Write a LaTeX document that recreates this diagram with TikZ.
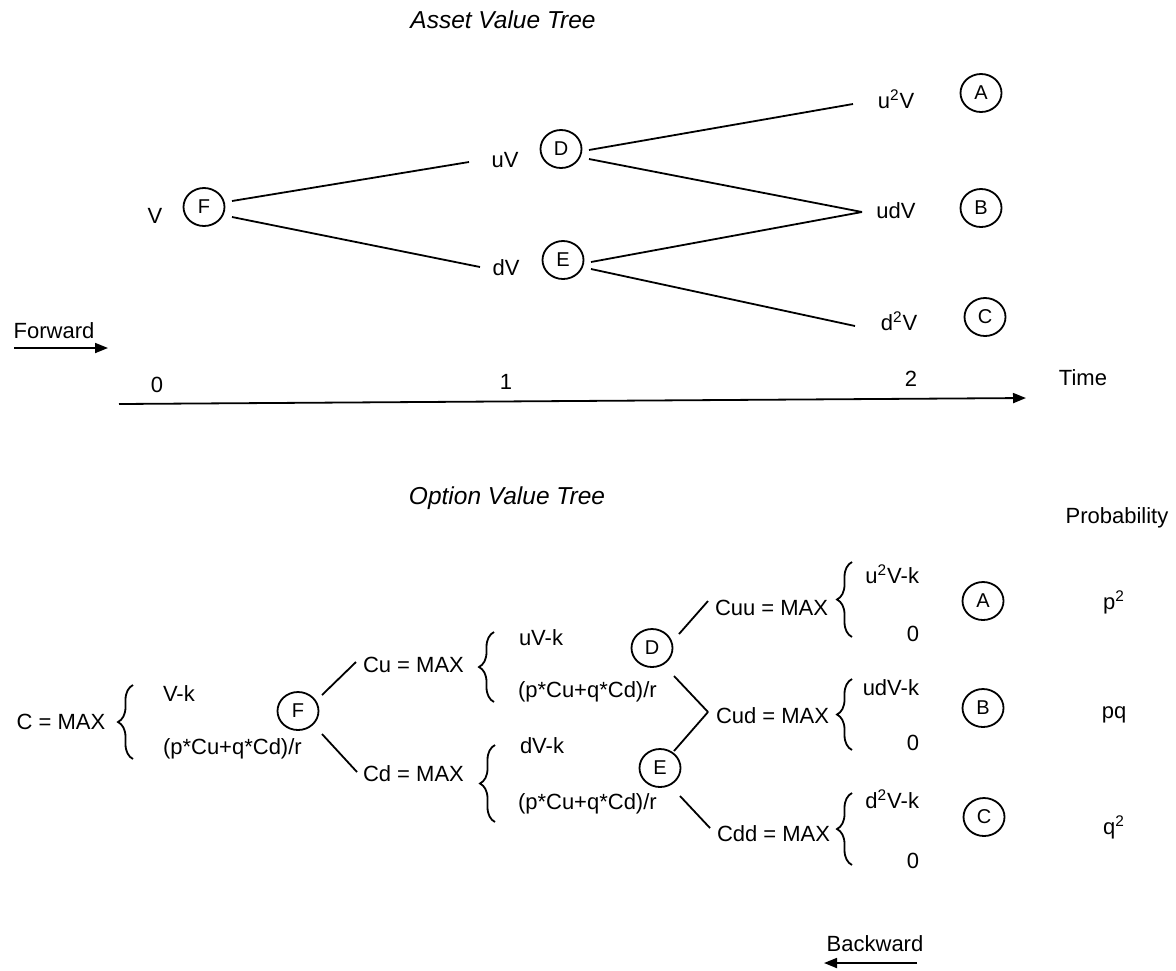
\documentclass[tikz,border=0pt]{standalone}
\usepackage{fontspec}
\setmainfont{Liberation Sans}
\usetikzlibrary{arrows.meta,shapes.geometric,decorations.pathreplacing,calc}

\begin{document}
\begin{tikzpicture}[x=0.5pt,y=-0.5pt,
  every node/.style={font=\fontsize{11pt}{13pt}\selectfont},
  lbl/.style={inner sep=0pt, outer sep=0pt, anchor=base},
  ttl/.style={lbl, font=\fontsize{12.25pt}{14pt}\selectfont\itshape},
  circnode/.style={draw, ellipse, line width=0.9pt, minimum width=20.5pt,
    minimum height=19pt, inner sep=0pt, font=\fontsize{10pt}{12pt}\selectfont},
  link/.style={line width=0.9pt},
  curly/.style={line width=0.9pt, decorate, decoration={brace, amplitude=7.5pt}},
  dirarrow/.style={line width=0.9pt, -{Triangle[length=6.5pt,width=5pt]}}
]
\useasboundingbox (0,0) rectangle (1176,970);

% ---------------- asset value tree ----------------
\node[ttl] (title1) at (503,28) {Asset Value Tree};

\node[lbl] (v0) at (155,223) {V};
\node[circnode] (aF) at (204,207) {F};
\node[lbl] (uv) at (505,167) {uV};
\node[lbl] (dv) at (506,275) {dV};
\node[circnode] (aD) at (561,149) {D};
\node[circnode] (aE) at (563,260) {E};
\node[lbl] (uuv) at (896,108) {u\textsuperscript{2}V};
\node[lbl] (udv) at (896,218) {udV};
\node[lbl] (ddv) at (899,330) {d\textsuperscript{2}V};
\node[circnode] (aA) at (981,93) {A};
\node[circnode] (aB) at (981,208) {B};
\node[circnode] (aC) at (985,317) {C};

\draw[link] ($(aF)+(28,-6)$) -- ($(uv.base)+(-36,-5)$);
\draw[link] ($(aF)+(28,10)$) -- ($(dv.base)+(-26,-8)$);
\draw[link] ($(aD)+(28,1)$) -- ($(uuv.base)+(-43,-4)$);
\draw[link] ($(aD)+(28,10)$) -- ($(udv.base)+(-34,-6)$);
\draw[link] ($(aE)+(28,2)$) -- ($(udv.base)+(-34,-6)$);
\draw[link] ($(aE)+(28,9)$) -- ($(ddv.base)+(-44,-4)$);

% forward direction and time axis
\node[lbl] (fw) at (54,338) {Forward};
\coordinate (fwA) at (14,348);
\coordinate (fwB) at (108,348);
\draw[dirarrow] (fwA) -- (fwB);

\node[lbl] (tk0) at (157,392) {0};
\node[lbl] (tk1) at (506,389) {1};
\node[lbl] (tk2) at (911,386) {2};
\node[lbl] (time) at (1083,385) {Time};
\coordinate (axA) at (119,404);
\coordinate (axB) at (1026,398);
\draw[dirarrow] (axA) -- (axB);

% ---------------- option value tree ----------------
\node[ttl] (title2) at (507,504) {Option Value Tree};
\node[lbl] (prob) at (1117,523) {Probability};

\node[lbl] (c0) at (61,729) {C = MAX};
\draw[curly] (133,759) -- (133,685);
\node[lbl, anchor=base west] (c0a) at (163,701) {V-k};
\node[lbl, anchor=base west] (c0b) at (163,754) {(p*Cu+q*Cd)/r};
\node[circnode] (bF) at (298,711) {F};

\node[lbl, anchor=base west] (cu) at (363,672) {Cu = MAX};
\draw[curly] (494,702) -- (494,632);
\node[lbl, anchor=base west] (cua) at (519,645) {uV-k};
\node[lbl, anchor=base west] (cub) at (518,697) {(p*Cu+q*Cd)/r};

\node[lbl, anchor=base west] (cd) at (363,781) {Cd = MAX};
\draw[curly] (495,822) -- (495,745);
\node[lbl, anchor=base west] (cda) at (520,753) {dV-k};
\node[lbl, anchor=base west] (cdb) at (518,809) {(p*Cu+q*Cd)/r};

\node[circnode] (bD) at (652,648) {D};
\node[circnode] (bE) at (660,768) {E};

\node[lbl, anchor=base west] (cuu) at (715,615) {Cuu = MAX};
\draw[curly] (852,637) -- (852,562);
\node[lbl, anchor=base east] (cuua) at (919,583) {u\textsuperscript{2}V-k};
\node[lbl, anchor=base east] (cuub) at (919,641) {0};

\node[lbl, anchor=base west] (cud) at (716,723) {Cud = MAX};
\draw[curly] (852,750) -- (852,679);
\node[lbl, anchor=base east] (cuda) at (919,695) {udV-k};
\node[lbl, anchor=base east] (cudb) at (919,750) {0};

\node[lbl, anchor=base west] (cdd) at (717,841) {Cdd = MAX};
\draw[curly] (852,865) -- (852,793);
\node[lbl, anchor=base east] (cdda) at (919,808) {d\textsuperscript{2}V-k};
\node[lbl, anchor=base east] (cddb) at (919,868) {0};

\node[circnode] (bA) at (983,601) {A};
\node[circnode] (bB) at (983,708) {B};
\node[circnode] (bC) at (984,817) {C};

\node[lbl] (pA) at (1114,609) {p\textsuperscript{2}};
\node[lbl] (pB) at (1114,718) {pq};
\node[lbl] (pC) at (1114,834) {q\textsuperscript{2}};

\draw[link] ($(bF)+(24,-16)$) -- ($(cu.base west)+(-7,-10)$);
\draw[link] ($(bF)+(24,23)$) -- ($(cd.base west)+(-6,-9)$);
\draw[link] ($(bD)+(27,-14)$) -- ($(cuu.base west)+(-7,-14)$);
\draw[link] ($(bD)+(22,28)$) -- ($(cud.base west)+(-8,-11)$);
\draw[link] ($(bE)+(14,-17)$) -- ($(cud.base west)+(-8,-11)$);
\draw[link] ($(bE)+(20,28)$) -- ($(cdd.base west)+(-7,-13)$);

% backward direction
\node[lbl] (bw) at (875,951) {Backward};
\coordinate (bwA) at (917,963);
\coordinate (bwB) at (824,963);
\draw[dirarrow] (bwA) -- (bwB);
\end{tikzpicture}
\end{document}
